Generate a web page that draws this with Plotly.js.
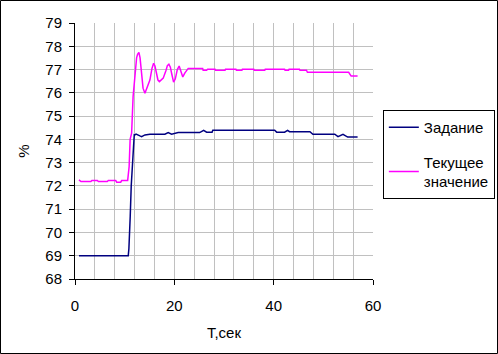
<!DOCTYPE html>
<html>
<head>
<meta charset="utf-8">
<script src="https://cdn.plot.ly/plotly-3.0.1.min.js"></script>
<style>
html,body{margin:0;padding:0;background:#fff;}
#chart{width:498px;height:354px;}
</style>
</head>
<body>
<div id="chart"></div>
<script>
// Задание (setpoint)
const setT = [0.8, 10.72, 10.85, 11.0, 11.12, 11.32, 11.52, 11.72, 11.93, 12.07, 12.3, 13.07, 13.41, 14.08, 15.08, 18.1, 18.76, 19.45, 20.77, 25.1, 25.9, 26.5, 27.6, 27.75, 40.2, 40.6, 42.2, 42.8, 43.2, 47.3, 47.9, 52.3, 52.95, 53.96, 54.9, 56.9];
const setV = [69.0, 69.0, 69.3, 69.9, 70.7, 72.0, 72.7, 73.8, 74.2, 74.19, 74.23, 74.15, 74.12, 74.19, 74.22, 74.22, 74.29, 74.22, 74.29, 74.29, 74.39, 74.31, 74.31, 74.39, 74.39, 74.31, 74.31, 74.39, 74.33, 74.33, 74.22, 74.22, 74.12, 74.22, 74.1, 74.1];

// Текущее значение (current value)
const curT = [0.8, 1.2, 3.2, 3.4, 4.5, 4.7, 6.5, 6.7, 8.2, 8.4, 9.2, 9.4, 10.6, 10.75, 10.9, 11.1, 11.4, 11.7, 12.07, 12.4, 12.6, 12.87, 13.1, 13.4, 13.7, 14.08, 14.5, 15.08, 15.5, 15.83, 16.1, 16.43, 16.7, 17.0, 17.4, 17.76, 18.3, 18.6, 18.9, 19.2, 19.45, 19.85, 20.2, 20.6, 20.97, 21.3, 21.7, 22.1, 22.8, 25.7, 25.8, 26.5, 26.7, 28.2, 28.3, 30.2, 30.3, 32.4, 32.5, 33.6, 33.7, 36.0, 36.1, 38.2, 38.3, 42.2, 42.3, 43.0, 43.1, 45.2, 45.3, 46.6, 46.8, 55.1, 55.6, 56.9];
const curV = [72.26, 72.19, 72.19, 72.23, 72.23, 72.19, 72.19, 72.23, 72.23, 72.16, 72.16, 72.23, 72.23, 72.5, 72.83, 74.0, 74.27, 75.84, 76.84, 77.5, 77.65, 77.74, 77.5, 76.84, 76.2, 75.98, 76.2, 76.55, 77.05, 77.27, 77.15, 76.84, 76.55, 76.48, 76.55, 76.63, 76.95, 77.17, 77.23, 77.1, 76.84, 76.46, 76.6, 77.0, 77.15, 76.95, 76.68, 76.85, 77.05, 77.05, 76.97, 76.97, 77.01, 77.01, 76.97, 76.97, 77.01, 77.01, 76.97, 76.97, 77.01, 77.01, 76.97, 76.97, 77.01, 77.01, 76.97, 76.97, 77.01, 77.01, 76.97, 76.97, 76.88, 76.88, 76.72, 76.72];

const xTicks = [0, 20, 40, 60];
const yTicks = [68, 69, 70, 71, 72, 73, 74, 75, 76, 77, 78, 79];

const FONT = '"Liberation Sans", Arial, sans-serif';

const traces = [
  {x: setT, y: setV, type: 'scatter', mode: 'lines', name: 'Задание',
   legendgroup: 'a', line: {color: '#000080', width: 1.5}},
  {x: curT, y: curV, type: 'scatter', mode: 'lines', name: 'Текущее<br>значение',
   legendgroup: 'b', line: {color: '#ff00ff', width: 1.5}}
];

const layout = {
  width: 498, height: 354,
  margin: {l: 75, r: 125, t: 23, b: 75, pad: 0, autoexpand: false},
  paper_bgcolor: '#ffffff', plot_bgcolor: '#ffffff',
  font: {family: FONT, size: 15, color: '#000'},
  showlegend: true,
  legend: {
    x: 1.033, y: 0.66, xanchor: 'left', yanchor: 'top',
    bordercolor: '#000', borderwidth: 1, bgcolor: '#fff',
    font: {family: FONT, size: 15, color: '#000'},
    itemwidth: 30, traceorder: 'grouped', tracegroupgap: 12
  },
  xaxis: {
    range: [0, 60], tickvals: xTicks, ticktext: xTicks.map(String),
    ticks: 'outside', ticklen: 5, tickcolor: '#000', tickwidth: 1,
    showline: true, linecolor: '#000', linewidth: 1,
    showgrid: true, gridcolor: '#c0c0c0', gridwidth: 1,
    minor: {dtick: 4, tick0: 0, showgrid: true, gridcolor: '#c0c0c0', gridwidth: 1, ticks: ''},
    zeroline: false, ticklabelstandoff: 8,
    title: {text: 'T,сек', font: {family: FONT, size: 15}, standoff: 14}
  },
  yaxis: {
    range: [68, 79], tickvals: yTicks, ticktext: yTicks.map(String),
    ticks: 'outside', ticklen: 5, tickcolor: '#000', tickwidth: 1,
    showline: true, linecolor: '#000', linewidth: 1,
    showgrid: true, gridcolor: '#c0c0c0', gridwidth: 1,
    zeroline: false, ticklabelstandoff: 4,
    title: {text: '%', font: {family: FONT, size: 15}, standoff: 12}
  },
  shapes: [
    {type: 'rect', xref: 'paper', yref: 'paper',
     x0: (0.5 - 75) / 298, x1: (497.5 - 75) / 298,
     y0: (279 - 353.5) / 256, y1: (279 - 0.5) / 256,
     line: {color: '#000', width: 1}, fillcolor: 'rgba(0,0,0,0)', layer: 'above'}
  ]
};

Plotly.newPlot('chart', traces, layout, {staticPlot: true, displayModeBar: false});
</script>
</body>
</html>
